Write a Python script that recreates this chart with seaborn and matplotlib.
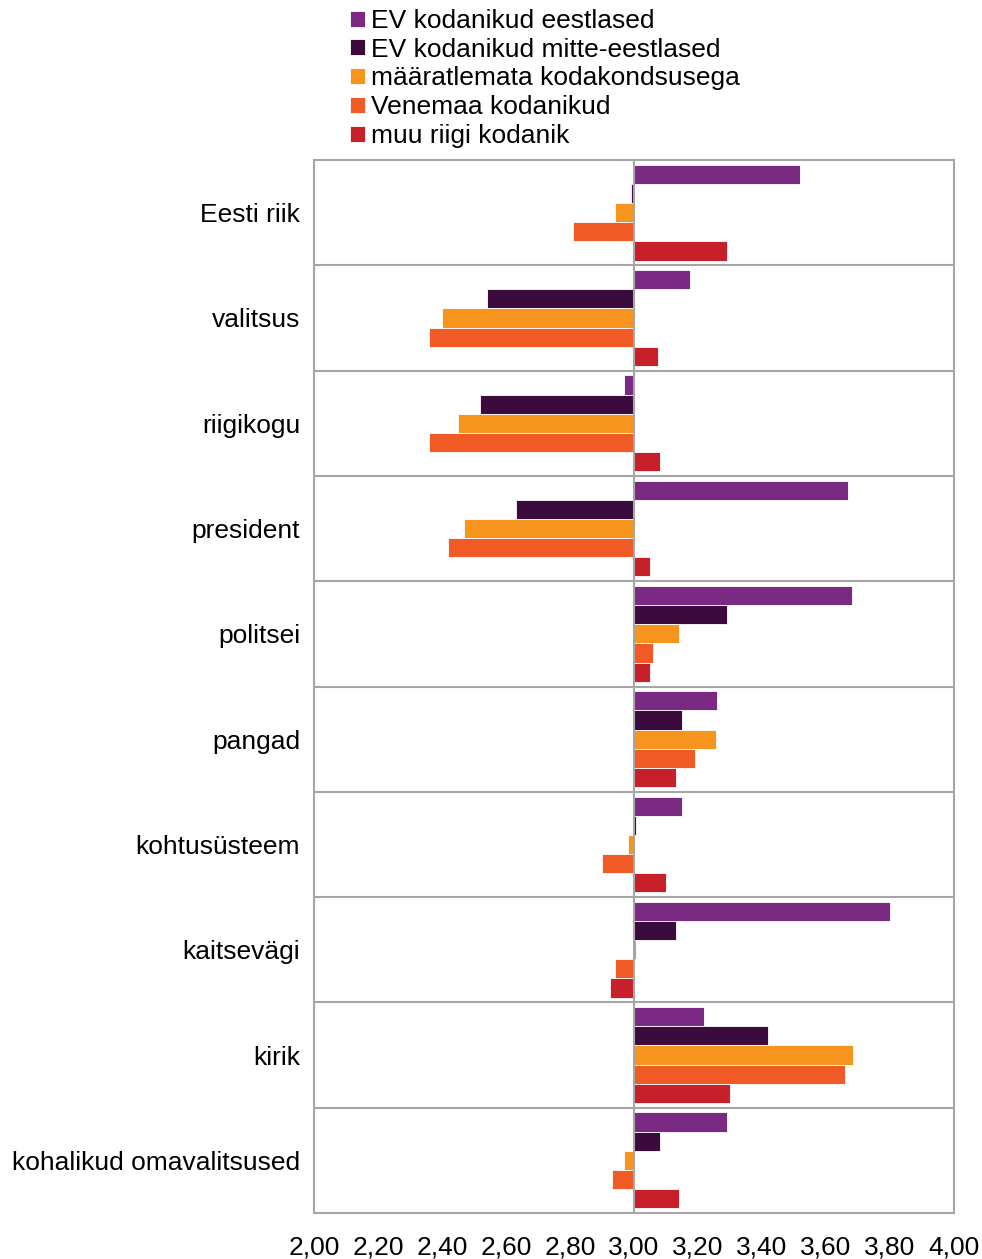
import matplotlib
matplotlib.use("Agg")
import matplotlib.pyplot as plt
import seaborn as sns
import pandas as pd
from matplotlib.ticker import FixedLocator, FuncFormatter

# andmed
categories = ["Eesti riik", "valitsus", "riigikogu", "president", "politsei",
              "pangad", "kohtusüsteem", "kaitsevägi", "kirik", "kohalikud omavalitsused"]
series = ["EV kodanikud eestlased", "EV kodanikud mitte-eestlased",
          "määratlemata kodakondsusega", "Venemaa kodanikud", "muu riigi kodanik"]
ev_eestlased = [3.52, 3.175, 2.97, 3.67, 3.68, 3.26, 3.15, 3.80, 3.22, 3.29]
ev_mitte_eestlased = [2.99, 2.54, 2.52, 2.63, 3.29, 3.15, 3.005, 3.13, 3.42, 3.08]
maaratlemata = [2.94, 2.40, 2.45, 2.47, 3.14, 3.255, 2.98, 3.005, 3.685, 2.97]
venemaa = [2.81, 2.36, 2.36, 2.42, 3.06, 3.19, 2.90, 2.94, 3.66, 2.93]
muu_riik = [3.29, 3.075, 3.08, 3.05, 3.05, 3.13, 3.10, 2.925, 3.30, 3.14]
colors = ["#7B2A83", "#3A0B3C", "#F7941E", "#F05A24", "#C8202A"]

baseline = 3.0

plt.rcParams['font.family'] = ['Liberation Sans', 'DejaVu Sans']

rows = []
for s, vals in zip(series, [ev_eestlased, ev_mitte_eestlased, maaratlemata, venemaa, muu_riik]):
    for c, v in zip(categories, vals):
        rows.append({"kategooria": c, "grupp": s, "hinnang": v - baseline})
df = pd.DataFrame(rows)

fig = plt.figure(figsize=(9.82, 12.59), dpi=100)
ax = fig.add_axes([314 / 982, 1 - 1213 / 1259, 640 / 982, 1053 / 1259])

sns.barplot(data=df, x="hinnang", y="kategooria", hue="grupp", order=categories,
            hue_order=series, palette=colors, orient="h", width=0.91, saturation=1,
            edgecolor="white", linewidth=0.6, ax=ax)

grid_col = "#A6A6A6"
for i in range(len(categories) - 1):
    ax.axhline(i + 0.5, color=grid_col, linewidth=1.5, zorder=0)
ax.axvline(0, color=grid_col, linewidth=1.5, zorder=3)

ax.set_xlim(-1, 1)
ax.set_ylim(len(categories) - 0.5, -0.5)
ticks = [-1 + 0.2 * k for k in range(11)]
ax.xaxis.set_major_locator(FixedLocator(ticks))
ax.xaxis.set_major_formatter(FuncFormatter(lambda v, p: f"{v + baseline:.2f}".replace(".", ",")))
ax.tick_params(axis="both", length=0, labelsize=19, colors="black")
ax.tick_params(axis="x", pad=16)
ax.tick_params(axis="y", pad=10)
ax.set_xlabel("")
ax.set_ylabel("")
for sp in ax.spines.values():
    sp.set_color(grid_col)
    sp.set_linewidth(1.5)

handles, labels = ax.get_legend_handles_labels()
ax.get_legend().remove()
fig.legend(handles, labels, loc="upper left", bbox_to_anchor=(350 / 982, 1 - 9 / 1259),
           frameon=False, fontsize=19, handlelength=0.55, handleheight=0.55,
           handletextpad=0.25, labelspacing=0.18, borderaxespad=0, borderpad=0)

fig.savefig("out.png", dpi=100)
